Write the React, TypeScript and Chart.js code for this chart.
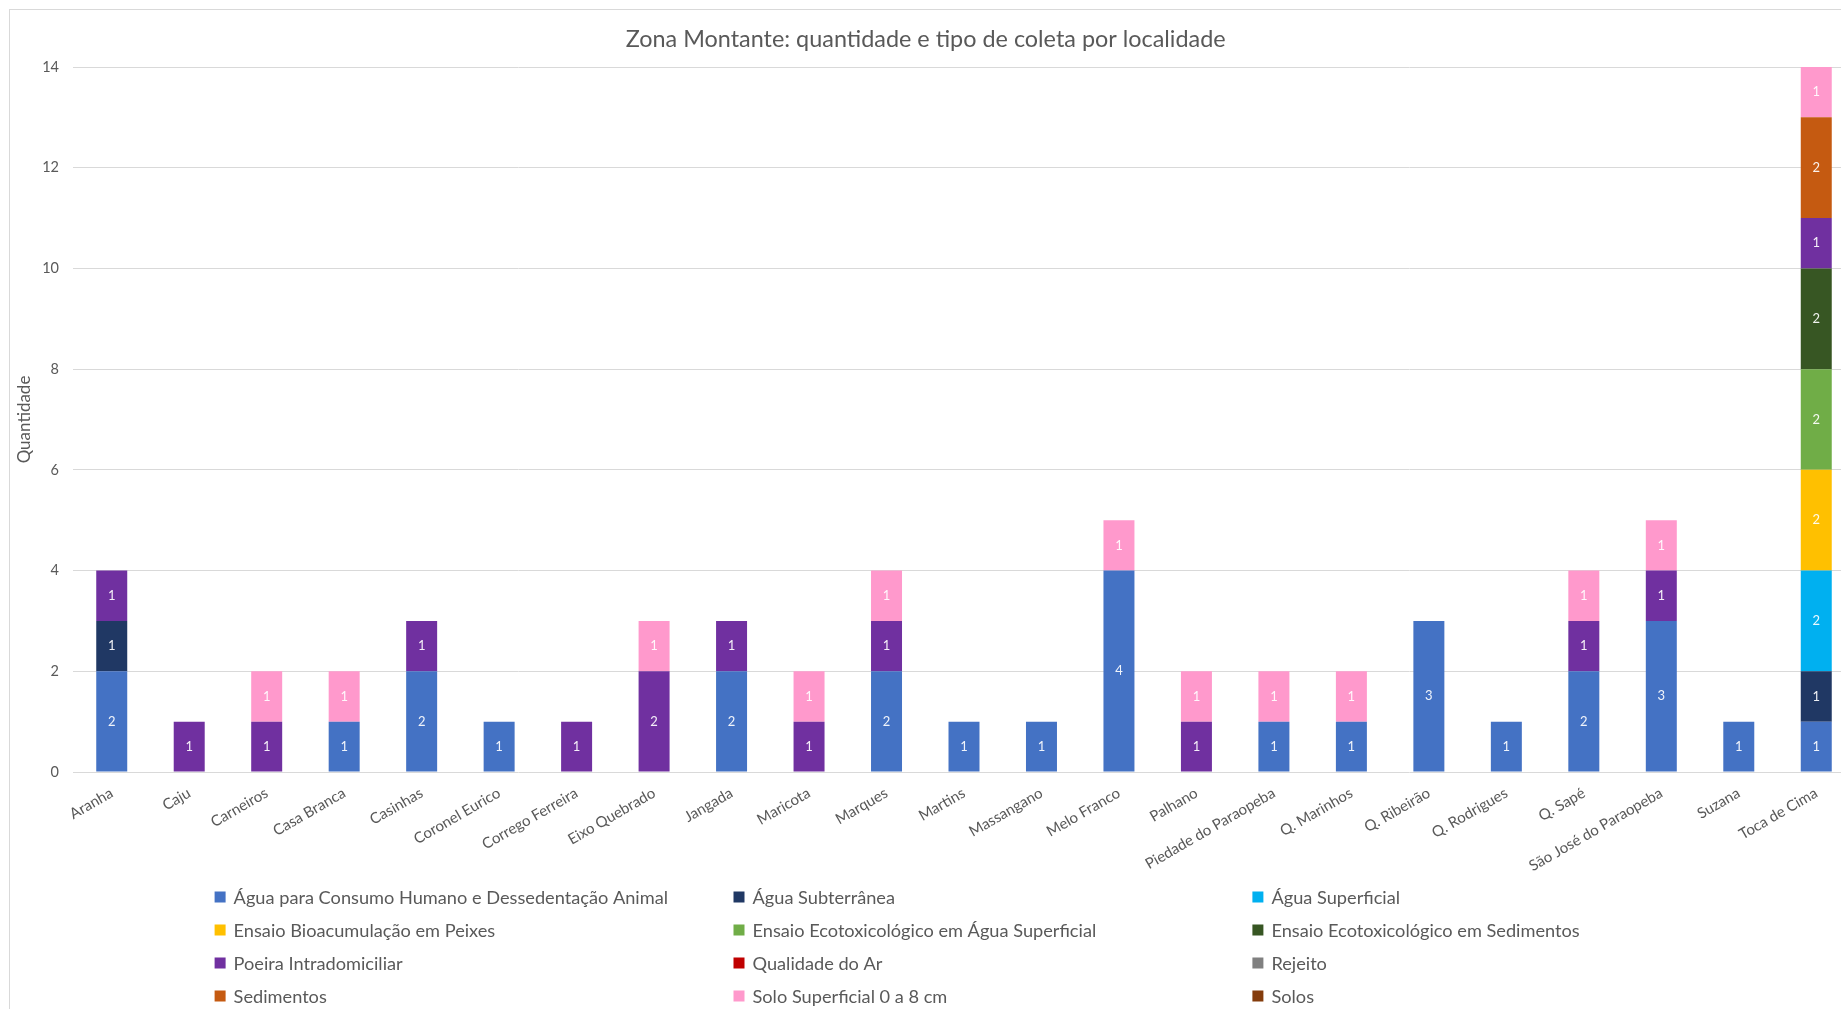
import React, { useEffect, useRef } from "react";
import { Chart, registerables } from "chart.js";

Chart.register(...registerables);

const categories = [
  "Aranha", "Caju", "Carneiros", "Casa Branca", "Casinhas", "Coronel Eurico",
  "Corrego Ferreira", "Eixo Quebrado", "Jangada", "Maricota", "Marques", "Martins",
  "Massangano", "Melo Franco", "Palhano", "Piedade do Paraopeba", "Q. Marinhos",
  "Q. Ribeirão", "Q. Rodrigues", "Q. Sapé", "São José do Paraopeba", "Suzana", "Toca de Cima",
];

const seriesNames = [
  "Água para Consumo Humano e Dessedentação Animal",
  "Água Subterrânea",
  "Água Superficial",
  "Ensaio Bioacumulação em Peixes",
  "Ensaio Ecotoxicológico em Água Superficial",
  "Ensaio Ecotoxicológico em Sedimentos",
  "Poeira Intradomiciliar",
  "Qualidade do Ar",
  "Rejeito",
  "Sedimentos",
  "Solo Superficial 0 a 8 cm",
  "Solos",
];

const seriesColors = [
  "#4472C4", "#203864", "#00B0F0", "#FFC000", "#70AD47", "#375623",
  "#7030A0", "#C00000", "#808080", "#C55A11", "#FF99CC", "#843C0C",
];

const aguaConsumo = [2, 0, 0, 1, 2, 1, 0, 0, 2, 0, 2, 1, 1, 4, 0, 1, 1, 3, 1, 2, 3, 1, 1];
const aguaSubterranea = [1, 0, 0, 0, 0, 0, 0, 0, 0, 0, 0, 0, 0, 0, 0, 0, 0, 0, 0, 0, 0, 0, 1];
const aguaSuperficial = [0, 0, 0, 0, 0, 0, 0, 0, 0, 0, 0, 0, 0, 0, 0, 0, 0, 0, 0, 0, 0, 0, 2];
const ensaioBioacumulacao = [0, 0, 0, 0, 0, 0, 0, 0, 0, 0, 0, 0, 0, 0, 0, 0, 0, 0, 0, 0, 0, 0, 2];
const ensaioEcoAgua = [0, 0, 0, 0, 0, 0, 0, 0, 0, 0, 0, 0, 0, 0, 0, 0, 0, 0, 0, 0, 0, 0, 2];
const ensaioEcoSedimentos = [0, 0, 0, 0, 0, 0, 0, 0, 0, 0, 0, 0, 0, 0, 0, 0, 0, 0, 0, 0, 0, 0, 2];
const poeira = [1, 1, 1, 0, 1, 0, 1, 2, 1, 1, 1, 0, 0, 0, 1, 0, 0, 0, 0, 1, 1, 0, 1];
const qualidadeAr = [0, 0, 0, 0, 0, 0, 0, 0, 0, 0, 0, 0, 0, 0, 0, 0, 0, 0, 0, 0, 0, 0, 0];
const rejeito = [0, 0, 0, 0, 0, 0, 0, 0, 0, 0, 0, 0, 0, 0, 0, 0, 0, 0, 0, 0, 0, 0, 0];
const sedimentos = [0, 0, 0, 0, 0, 0, 0, 0, 0, 0, 0, 0, 0, 0, 0, 0, 0, 0, 0, 0, 0, 0, 2];
const soloSuperficial = [0, 0, 1, 1, 0, 0, 0, 1, 0, 1, 1, 0, 0, 1, 1, 1, 1, 0, 0, 1, 1, 0, 1];
const solos = [0, 0, 0, 0, 0, 0, 0, 0, 0, 0, 0, 0, 0, 0, 0, 0, 0, 0, 0, 0, 0, 0, 0];

const seriesValues = [
  aguaConsumo, aguaSubterranea, aguaSuperficial, ensaioBioacumulacao, ensaioEcoAgua,
  ensaioEcoSedimentos, poeira, qualidadeAr, rejeito, sedimentos, soloSuperficial, solos,
];

const chartTitle = "Zona Montante: quantidade e tipo de coleta por localidade";
const yTitle = "Quantidade";

const FONT = 'Lato, "Noto Sans", sans-serif';
const TEXT = "#595959";

const dataLabelPlugin = {
  id: "dataLabels",
  afterDatasetsDraw(chart: any) {
    const ctx = chart.ctx;
    ctx.save();
    ctx.font = `13px ${FONT}`;
    ctx.fillStyle = "rgba(255,255,255,0.92)";
    ctx.textAlign = "center";
    ctx.textBaseline = "middle";
    chart.data.datasets.forEach((ds: any, di: number) => {
      const meta = chart.getDatasetMeta(di);
      meta.data.forEach((el: any, i: number) => {
        const v = ds.data[i];
        if (!v) return;
        const y = (el.y + el.base) / 2;
        ctx.fillText(String(v), el.x, y);
      });
    });
    ctx.restore();
  },
};

const titlePlugin = {
  id: "chartTitleText",
  afterDraw(chart: any) {
    const ctx = chart.ctx;
    ctx.save();
    ctx.font = `23.4px ${FONT}`;
    ctx.fillStyle = TEXT;
    ctx.textAlign = "center";
    ctx.textBaseline = "middle";
    ctx.fillText(chartTitle, 915.7, 29);
    ctx.restore();
  },
};

const gridLegendPlugin = {
  id: "gridLegend",
  afterDraw(chart: any) {
    const ctx = chart.ctx;
    const colX = [223.6, 742.5, 1261.4];
    const rowY = [887, 920, 953, 986];
    ctx.save();
    ctx.font = `18.2px ${FONT}`;
    ctx.textBaseline = "middle";
    ctx.textAlign = "left";
    seriesNames.forEach((name, i) => {
      const c = i % 3;
      const r = Math.floor(i / 3);
      const x = colX[c];
      const y = rowY[r];
      ctx.fillStyle = seriesColors[i];
      ctx.fillRect(x - 19, y - 5.5, 11, 11);
      ctx.fillStyle = TEXT;
      ctx.fillText(name, x, y + 1);
    });
    ctx.restore();
  },
};

export default function App() {
  const ref = useRef<HTMLCanvasElement>(null);

  useEffect(() => {
    const canvas = ref.current;
    if (!canvas) return;
    const chart = new Chart(canvas, {
      type: "bar",
      data: {
        labels: categories,
        datasets: seriesNames.map((name, i) => ({
          label: name,
          data: seriesValues[i],
          backgroundColor: seriesColors[i],
          borderWidth: 0,
          barPercentage: 0.4,
          categoryPercentage: 1,
        })),
      },
      options: {
        responsive: false,
        animation: false,
        devicePixelRatio: 1,
        layout: { padding: { left: 0, right: 5, top: 57, bottom: 137 } },
        plugins: {
          legend: { display: false },
          tooltip: { enabled: false },
          title: { display: false },
        },
        scales: {
          x: {
            stacked: true,
            grid: { display: false },
            border: { display: false },
            ticks: {
              autoSkip: false,
              minRotation: 30,
              maxRotation: 30,
              padding: 4,
              color: TEXT,
              font: { family: FONT, size: 15 },
            },
            afterFit(scale: any) {
              scale.height = 100;
            },
          },
          y: {
            stacked: true,
            min: 0,
            max: 14,
            ticks: {
              stepSize: 2,
              padding: 14,
              color: TEXT,
              font: { family: FONT, size: 14.5 },
            },
            grid: { color: "#d9d9d9", drawTicks: false, lineWidth: 1 },
            border: { display: false },
            title: {
              display: true,
              text: yTitle,
              color: TEXT,
              font: { family: FONT, size: 17 },
              padding: { top: 4, bottom: 0 },
            },
            afterFit(scale: any) {
              scale.width = 63;
            },
          },
        },
      },
      plugins: [dataLabelPlugin, titlePlugin, gridLegendPlugin],
    } as any);
    return () => chart.destroy();
  }, []);

  return (
    <div
      style={{
        position: "fixed",
        left: 0,
        top: 0,
        width: 1841,
        height: 1009,
        overflow: "hidden",
        background: "#ffffff",
      }}
    >
      <div
        style={{
          position: "absolute",
          left: 9,
          top: 9,
          width: 1860,
          height: 1010,
          borderLeft: "1px solid #d9d9d9",
          borderTop: "1px solid #d9d9d9",
        }}
      >
        <canvas
          ref={ref}
          width={1850}
          height={999}
          style={{ display: "block", width: 1850, height: 999 }}
        />
      </div>
    </div>
  );
}
